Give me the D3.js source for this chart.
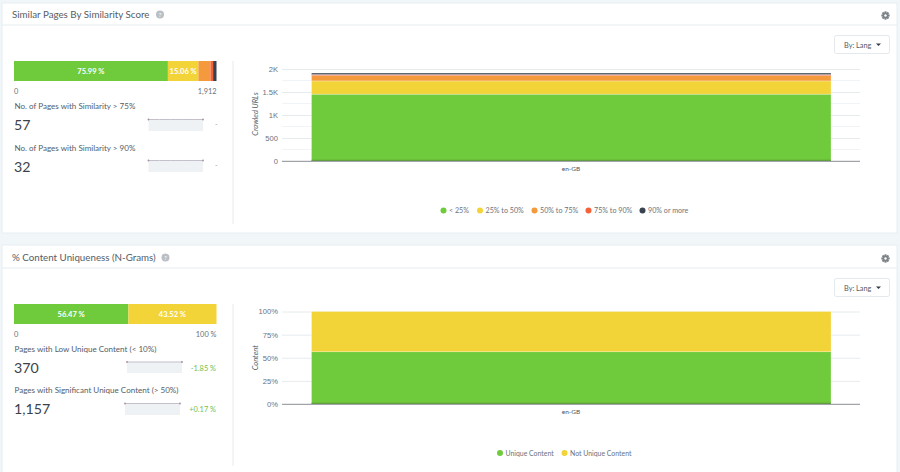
<!DOCTYPE html>
<html><head><meta charset="utf-8">
<script src="https://cdn.jsdelivr.net/npm/d3@7"></script>
<style>html,body{margin:0;padding:0;background:#f1f6f8;overflow:hidden}svg{display:block;font-family:Lato,"Open Sans",sans-serif}</style>
</head><body><svg id="c" width="900" height="472"></svg>
<script>
const categories = ["en-GB"];
const similarityLabels = ["< 25%","25% to 50%","50% to 75%","75% to 90%","90% or more"];
const similarityValues = [1453,288,114,25,32];
const similarityColors = ["#6fcb3c","#f2d338","#f59a3c","#f4623a","#38434f"];
const similarityYTicks = [0,500,1000,1500,2000];
const similarityYLabels = ["0","500","1K","1.5K","2K"];
const similarityBarLabels = ["75.99 %","15.06 %","","",""];
const uniquenessLabels = ["Unique Content","Not Unique Content"];
const uniquenessValues = [56.47,43.52];
const uniquenessColors = ["#6fcb3c","#f2d338"];
const uniquenessYTicks = [0,25,50,75,100];
const uniquenessBarLabels = ["56.47 %","43.52 %"];
const sparkA = [57,57,57,57,57,57];
const sparkB = [32,32,32,32,32,32];
const sparkC = [370,370,370,370,370,370];
const sparkD = [1157,1157,1157,1157,1157,1157];

const svg = d3.select("#c");
const TXT="#4d5560", MUTED="#6b727b";

function text(x,y,s,size,fill,anchor,extra){
  const t=svg.append("text").attr("x",x).attr("y",y).attr("font-size",size).attr("fill",fill||TXT).attr("text-anchor",anchor||"start").text(s);
  if(extra)extra(t);return t;
}
function panel(y0,y1,hb,title,titleW){
  svg.append("rect").attr("x",2).attr("y",y0).attr("width",895).attr("height",y1-y0).attr("fill","#fff").attr("stroke","#e8eef1").attr("stroke-width",1);
  svg.append("line").attr("x1",2).attr("x2",897).attr("y1",hb).attr("y2",hb).attr("stroke","#e6ecef");
  text(12,hb-7.5,title,9.75,"#555d66");
  svg.append("circle").attr("cx",titleW).attr("cy",hb-10.5).attr("r",4).attr("fill","#b9bfc4");
  text(titleW,hb-8,"?",6.5,"#fff","middle");
  const g=svg.append("g").attr("transform",`translate(885.5,${hb-9.5})`);
  g.selectAll("rect").data(d3.range(0,180,45)).join("rect").attr("x",-1).attr("y",-4.2).attr("width",2).attr("height",8.4).attr("fill","#7c8288").attr("transform",d=>`rotate(${d})`);
  g.append("circle").attr("r",3).attr("fill","#7c8288");
  g.append("circle").attr("r",1.2).attr("fill","#fff");
  svg.append("rect").attr("x",834.5).attr("y",hb+10.5).attr("width",55).attr("height",18).attr("rx",2).attr("fill","#fff").attr("stroke","#e4e9ed");
  text(844,hb+22.5,"By: Lang",7.3,"#555d66");
  svg.append("path").attr("d",`M876 ${hb+18.5}h5l-2.5 2.5z`).attr("fill","#333a42");
}
function stackBar(y,values,colors,labels,x0,x1){
  const total=d3.sum(values);
  const x=d3.scaleLinear().domain([0,total]).range([x0,x1]);
  let acc=0;
  values.forEach((v,i)=>{
    svg.append("rect").attr("x",x(acc)).attr("y",y).attr("width",x(acc+v)-x(acc)).attr("height",20).attr("fill",colors[i]);
    if(labels[i])text((x(acc)+x(acc+v))/2,y+12.5,labels[i],7.5,"#fff","middle",t=>t.attr("font-weight",700));
    acc+=v;
  });
}
function spark(vals,x0,x1,y0,y1){
  const x=d3.scaleLinear().domain([0,vals.length-1]).range([x0,x1]);
  const m=d3.max(vals);
  const y=d3.scaleLinear().domain([0,m]).range([y1,y0]);
  svg.append("path").attr("d",d3.area().x((d,i)=>x(i)).y0(y1).y1(d=>y(d))(vals)).attr("fill","#eff2f5");
  svg.append("path").attr("d",d3.line().x((d,i)=>x(i)).y(d=>y(d))(vals)).attr("fill","none").attr("stroke","#c3bfcb").attr("stroke-width",1);
  [0,vals.length-1].forEach(i=>svg.append("circle").attr("cx",x(i)).attr("cy",y(vals[i])).attr("r",.9).attr("fill","#a88d9c"));
}
function chart(cfg){
  const {top,bottom,domain,ticks,fmt,minor,values,colors,axisLabel}=cfg;
  const y=d3.scaleLinear().domain(domain).range([bottom,top]);
  const x=d3.scaleBand().domain(categories).range([282,860]).padding(0.0);
  const bx=311.5,bw=519.5;
  if(minor)svg.append("g").selectAll("line").data(minor).join("line").attr("x1",282).attr("x2",860).attr("y1",d=>y(d)).attr("y2",d=>y(d)).attr("stroke","#f1f4f6");
  const ax=d3.axisLeft(y).tickValues(ticks).tickFormat(fmt).tickSize(-578).tickPadding(4);
  const g=svg.append("g").attr("transform","translate(282,0)").call(ax);
  g.select(".domain").remove();
  g.selectAll("line").attr("stroke","#e6ebee");
  g.selectAll("text").attr("font-size",7.6).attr("fill",MUTED);
  let acc=0;
  categories.forEach(c=>{
    values.forEach((v,i)=>{
      svg.append("rect").attr("x",bx).attr("width",bw).attr("y",y(acc+v)).attr("height",y(acc)-y(acc+v)).attr("fill",colors[i]).attr("stroke","#fff").attr("stroke-opacity",.45).attr("stroke-width",.6);
      acc+=v;
    });
    svg.append("line").attr("x1",bx).attr("x2",bx+bw).attr("y1",bottom-.7).attr("y2",bottom-.7).attr("stroke","#57a02c").attr("stroke-width",1.2);
    text(x(c)+x.bandwidth()/2,bottom+10,c,6.5,"#4d5560","middle");
  });
  svg.append("line").attr("x1",282).attr("x2",860).attr("y1",bottom+.3).attr("y2",bottom+.3).attr("stroke","#8f9398").attr("stroke-width",1);
  const my=(top+bottom)/2+cfg.labelShift;
  svg.append("text").attr("transform",`translate(${cfg.labelX},${my}) rotate(-90)`).attr("text-anchor","middle").attr("font-size",7.5).attr("font-style","italic").attr("fill","#555d66").text(axisLabel);
}
function legend(y,items,colors,xs,size){
  items.forEach((l,i)=>{
    svg.append("circle").attr("cx",xs[i]).attr("cy",y).attr("r",3).attr("fill",colors[i]);
    text(xs[i]+5.5,y+2.5,l,size,MUTED);
  });
}

// Panel 1
panel(3,233,25,"Similar Pages By Similarity Score",160);
stackBar(61,similarityValues,similarityColors,similarityBarLabels,14,216.5);
text(14,94,"0",7.4,MUTED);
text(216.5,94,"1,912",7.4,MUTED,"end");
text(14.5,109,"No. of Pages with Similarity > 75%",8.05,"#555d66");
text(14,130,"57",14.2,"#3b4249");
spark(sparkA,148.5,203,119.5,131);
text(215,127,"-",7,"#9aa0a5");
text(14.5,150.5,"No. of Pages with Similarity > 90%",8.05,"#555d66");
text(14,172,"32",14.2,"#3b4249");
spark(sparkB,148.5,203,160.5,172);
text(215,168,"-",7,"#9aa0a5");
svg.append("line").attr("x1",233).attr("x2",233).attr("y1",61).attr("y2",224).attr("stroke","#e6ebee");
chart({top:69,bottom:161,domain:[0,2000],ticks:similarityYTicks,fmt:(d,i)=>similarityYLabels[i],minor:[250,750,1250,1750],values:similarityValues,colors:similarityColors,axisLabel:"Crawled URLs",labelX:257.5,labelShift:-1});
legend(210.5,similarityLabels,similarityColors,[443.5,480,534.5,588.5,642.5],7.15);

// Panel 2
panel(245,480,268,"% Content Uniqueness (N-Grams)",165.5);
stackBar(304,uniquenessValues,uniquenessColors,uniquenessBarLabels,14,216.5);
text(14,337,"0",7.4,MUTED);
text(216.5,337,"100 %",7.4,MUTED,"end");
text(14.5,352,"Pages with Low Unique Content (< 10%)",8.05,"#555d66");
text(14,373,"370",14.2,"#3b4249");
spark(sparkC,127,182,362,373);
text(216,370.5,"-1.85 %",7.4,"#72c24a","end");
text(14.5,393,"Pages with Significant Unique Content (> 50%)",8.05,"#555d66");
text(14,414,"1,157",14.2,"#3b4249");
spark(sparkD,125,180,403.5,415);
text(216,412,"+0.17 %",7.4,"#72c24a","end");
svg.append("line").attr("x1",233).attr("x2",233).attr("y1",304).attr("y2",466).attr("stroke","#e6ebee");
chart({top:311.5,bottom:404,domain:[0,100],ticks:uniquenessYTicks,fmt:d=>d+"%",minor:null,values:uniquenessValues,colors:uniquenessColors,axisLabel:"Content",labelX:257.5,labelShift:0});
legend(453,uniquenessLabels,uniquenessColors,[500,564.5],6.9);
</script></body></html>
